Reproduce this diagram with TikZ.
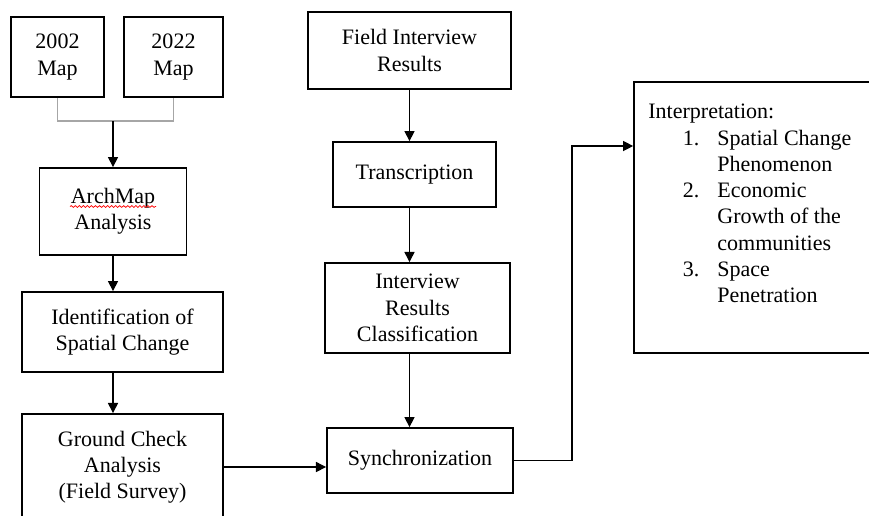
\documentclass[tikz,border=0pt]{standalone}
\usepackage{fontspec}
\setmainfont{Liberation Serif}
\usetikzlibrary{arrows.meta,decorations.pathmorphing}

\begin{document}
\begin{tikzpicture}[x=.545pt,y=-.545pt,
  flowbox/.style={draw,line width=1pt,align=center,inner sep=0pt,font=\fontsize{12}{14.3}\selectfont},
  flowarrow/.style={->,line width=.7pt},
  bracket/.style={draw=gray!70,line width=.6pt},
  >={Triangle[length=5.5pt,width=5.5pt]}]
\useasboundingbox (0,0) rectangle (869,515);
\clip (0,0) rectangle (869,515);

% left column
\node[flowbox,minimum width=50.7pt,minimum height=43.6pt] (map02) at (57.5,57) {2002\\Map};
\node[flowbox,minimum width=54pt,minimum height=43.6pt] (map22) at (173.5,57) {2022\\Map};
\node[flowbox,minimum width=80.1pt,minimum height=47.4pt] (arch) at (113,211.5) {ArchMap\\Analysis};
\node[flowbox,minimum width=109.5pt,minimum height=43.6pt] (ident) at (122.5,332) {Identification of\\Spatial Change};
\node[flowbox,minimum width=109.5pt,minimum height=57.8pt] (ground) at (122.5,467) {Ground Check\\Analysis\\(Field Survey)};

% middle column
\node[flowbox,minimum width=110.6pt,minimum height=42pt] (field) at (409.5,50.5) {Field Interview\\Results};
\node[flowbox,minimum width=88.8pt,minimum height=35.4pt] (trans) at (414.5,174.5) {Transcription};
\node[flowbox,minimum width=100.8pt,minimum height=49.1pt] (classif) at (417.5,308) {Interview\\Results\\Classification};
\node[flowbox,minimum width=101.4pt,minimum height=35.4pt] (sync) at (420,460.5) {Synchronization};

% right box
\node[flowbox,minimum width=134pt,minimum height=147.7pt] (interp) at (757,217.5) {};
\node[anchor=north west,inner sep=0pt,align=left,font=\fontsize{12}{14.3}\selectfont] (interptext) at (648,104)
  {Interpretation:\\
   \begin{tabular}[t]{@{\hspace{18.8pt}}r@{\hspace{9.8pt}}l}
   1. & Spatial Change\\
      & Phenomenon\\
   2. & Economic\\
      & Growth of the\\
      & communities\\
   3. & Space\\
      & Penetration
   \end{tabular}};

% spell check line
\draw[red,line width=.4pt,decorate,decoration={snake,amplitude=.5pt,segment length=2.2pt}] (70,206.5) -- (156,206.5);

% connectors
\coordinate (join) at (113,121);
\draw[bracket] (map02.south) |- (join) -| (map22.south);
\draw[flowarrow] (join) -- (arch.north);
\draw[flowarrow] (arch.south) -- (arch.south |- ident.north);
\draw[flowarrow] (arch.south |- ident.south) -- (arch.south |- ground.north);
\draw[flowarrow] (field.south) -- (field.south |- trans.north);
\draw[flowarrow] (field.south |- trans.south) -- (field.south |- classif.north);
\draw[flowarrow] (field.south |- classif.south) -- (field.south |- sync.north);
\draw[flowarrow] (ground.east) -- (ground.east -| sync.west);
\coordinate (bend) at (572,146);
\draw[flowarrow] (sync.east) -| (bend) -- (bend -| interp.west);
\end{tikzpicture}
\end{document}
